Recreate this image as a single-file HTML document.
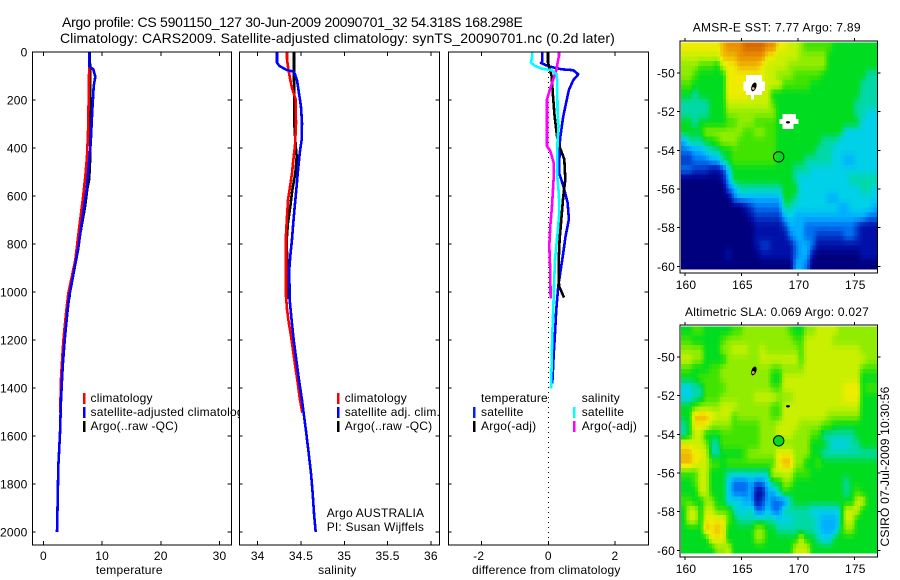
<!DOCTYPE html>
<html>
<head>
<meta charset="utf-8">
<title>Argo profile</title>
<style>
html,body{margin:0;padding:0;background:#fff;}
svg{display:block;font-family:"Liberation Sans",sans-serif;font-size:12px;fill:#000;letter-spacing:0.2px;}
</style>
</head>
<body>
<svg id="chart" xmlns="http://www.w3.org/2000/svg" width="900" height="580" viewBox="0 0 900 580">
<rect x="0" y="0" width="900" height="580" fill="#fff"/>
<text x="62" y="27" font-size="14" textLength="461" lengthAdjust="spacing">Argo profile: CS 5901150_127 30-Jun-2009 20090701_32 54.318S 168.298E</text>
<text x="60" y="43" font-size="14" textLength="555" lengthAdjust="spacing">Climatology: CARS2009. Satellite-adjusted climatology: synTS_20090701.nc (0.2d later)</text>
</svg>
<script>
// ---------- profile data ----------
const depthTicks = [0,200,400,600,800,1000,1200,1400,1600,1800,2000];
const tempTicks = [0,10,20,30];
const salTicks = [34,34.5,35,35.5,36];
const diffTicks = [-2,0,2];
const lonTicks = [160,165,170,175];
const latTicks = [50,52,54,56,58,60];

const tempClimDepths = [0,130,339,436,519,617,728,867,1006,1089,1200,1311,1380,1505];
const tempClimValues = [7.8,7.77,7.6,7.43,7.14,6.7,6.12,5.44,4.25,3.85,3.4,3.11,2.95,2.9];
const tempSatDepths = [0,60,72,103,142,242,380,425,570,686,825,964,1019,1089,1200,1311,1450,1589,1728,1867,2000];
const tempSatValues = [7.82,7.82,8.5,8.84,8.57,8.33,8.05,7.9,7.37,6.7,5.9,4.82,4.4,4.07,3.63,3.28,3.0,2.83,2.54,2.43,2.32];
const tempArgoDepths = [0,60,180,320,450,530,570,645,756,853,964,1030];
const tempArgoValues = [7.9,7.94,7.99,7.94,7.95,7.8,7.48,7.09,6.29,5.67,4.7,4.4];

const salClimDepths = [0,30,72,117,155,197,297,392,450,506,561,617,686,761,1017,1072,1117,1200,1283,1367,1450,1503];
const salClimValues = [34.338,34.338,34.354,34.377,34.4,34.439,34.442,34.431,34.411,34.396,34.373,34.35,34.338,34.327,34.327,34.338,34.354,34.392,34.423,34.457,34.488,34.515];
const salSatDepths = [0,44,58,75,82,117,172,228,297,367,422,506,575,644,711,781,850,919,989,1033,1117,1200,1283,1367,1450,1506,1589,1672,1756,1839,1922,2000];
const salSatValues = [34.223,34.223,34.25,34.335,34.419,34.454,34.477,34.5,34.512,34.507,34.485,34.462,34.446,34.427,34.411,34.396,34.376,34.361,34.37,34.37,34.392,34.416,34.446,34.477,34.512,34.531,34.561,34.589,34.615,34.635,34.65,34.67];
const salArgoDepths = [0,89,297,392,436,506,575,644,711,781,919,1030];
const salArgoValues = [34.419,34.419,34.423,34.439,34.45,34.434,34.4,34.376,34.35,34.335,34.343,34.346];

const diffTempSatDepths = [0,44,46,59,72,76,93,117,158,183,267,364,503,558,628,697,767,864,975,1072,1172,1269,1381];
const diffTempSatValues = [-0.18,-0.18,-0.22,0,0.4,0.75,0.9,0.75,0.62,0.58,0.45,0.35,0.32,0.45,0.58,0.62,0.52,0.42,0.3,0.24,0.2,0.16,0.12];
const diffTempArgoDepths = [0,44,59,100,183,267,350,399,447,531,600,683,781,878,975,1023];
const diffTempArgoValues = [-0.01,-0.01,0.02,0.1,0.14,0.19,0.26,0.35,0.48,0.51,0.45,0.4,0.34,0.31,0.32,0.47];
const diffSalSatDepths = [0,17,44,58,69,76,93,128,267,308,364,503,600,669,753,864,975,1072,1172,1311,1403];
const diffSalSatValues = [-0.48,-0.48,-0.52,-0.4,-0.2,0.1,0.25,0.27,0.28,0.31,0.28,0.26,0.32,0.33,0.28,0.2,0.17,0.15,0.12,0.1,0.08];
const diffSalArgoDepths = [0,17,44,72,100,156,197,392,413,461,531,642,725,808,919,1028];
const diffSalArgoValues = [0.32,0.32,0.28,0.25,0.18,0.05,-0.04,-0.04,0.06,0.16,0.16,0.11,0.06,0.03,0.06,0.07];

// ---------- map data (colour level per cell, north to south, west to east) ----------
const sstCells = [
[11,11,11,11,11,11,11,12,13,13,13,14,14,14,14,13,13,11,11,10,10,9,8,8,8,8,8,7,7,7,7,7,7,7,7],
[10,10,10,10,10,10,10,12,12,12,13,13,13,13,13,11,11,10,10,10,10,9,9,9,9,9,7,7,7,7,7,7,7,7,7],
[9,9,9,8,8,8,7,10,11,11,12,12,12,12,11,10,10,10,10,9,9,9,9,9,9,9,7,7,7,7,7,7,7,7,7],
[9,9,8,7,7,7,7,7,11,11,11,11,11,11,11,10,10,9,9,9,8,8,8,8,8,7,7,7,7,7,7,7,7,6,6],
[8,8,7,7,7,7,7,7,11,11,11,11,11,11,11,10,10,10,8,8,8,8,8,7,7,7,7,7,7,7,7,7,6,6,6],
[7,7,6,7,7,7,7,7,11,11,11,11,10,10,10,10,7,7,7,7,7,7,7,7,7,7,7,7,7,7,7,7,6,6,6],
[6,6,6,6,6,7,7,7,10,10,10,10,10,10,10,10,8,7,7,7,7,7,7,7,7,7,7,7,7,7,7,6,6,6,6],
[6,6,6,6,6,7,7,7,9,9,9,9,9,9,9,9,9,7,7,7,7,7,7,7,7,7,7,7,7,7,7,6,6,5,5],
[7,7,6,7,7,7,7,7,8,8,9,9,9,8,8,8,8,7,7,7,7,7,7,7,7,7,7,7,7,7,7,7,5,5,5],
[7,7,7,7,9,9,9,9,9,9,9,8,8,9,9,8,8,7,7,7,7,7,7,7,7,7,7,7,7,5,5,5,5,5,5],
[4,6,6,6,7,7,8,9,9,9,8,8,8,8,8,8,8,7,7,7,7,7,7,7,7,6,6,6,5,5,5,5,5,5,5],
[3,3,4,4,5,6,6,7,7,8,8,8,8,8,8,8,8,7,7,7,7,7,7,7,6,6,6,5,5,5,5,5,5,5,5],
[2,2,3,3,3,4,4,6,7,8,8,8,8,8,8,8,8,7,7,7,7,7,6,6,6,6,6,5,5,4,4,5,5,5,5],
[3,3,2,2,2,1,1,2,5,7,7,7,7,7,7,7,7,7,7,7,6,6,6,5,5,5,5,5,5,5,5,5,5,5,5],
[0,0,0,0,0,0,0,1,4,7,7,7,7,7,7,7,7,7,7,7,6,5,5,5,5,5,5,5,5,5,6,6,6,6,6],
[0,0,0,0,0,0,0,0,3,4,6,6,6,6,6,6,6,6,7,7,7,5,5,5,5,5,5,5,5,5,5,5,6,6,5],
[0,0,0,0,0,0,0,0,0,3,4,4,4,4,4,4,4,4,7,7,6,5,5,5,5,5,4,4,5,5,5,5,5,5,5],
[0,0,0,0,0,0,0,0,0,0,0,1,2,3,3,3,3,3,6,6,5,5,5,5,5,5,5,5,4,4,5,5,5,5,4],
[0,0,0,0,0,0,0,0,0,0,0,0,1,2,2,2,2,2,4,5,4,4,4,4,4,4,4,4,4,4,4,4,4,3,3],
[0,0,0,0,0,0,0,0,0,0,0,0,0,1,1,1,1,1,2,4,4,4,3,3,3,3,3,3,3,3,3,2,1,1,1],
[0,0,0,0,0,0,0,0,0,0,0,0,0,1,1,1,1,1,1,3,4,4,3,3,2,2,2,2,2,3,3,2,1,1,1],
[0,0,0,0,0,0,0,0,0,0,0,0,0,1,2,2,1,1,1,1,3,4,4,3,1,1,1,1,1,1,1,1,1,1,1],
[0,0,0,0,0,0,0,0,1,0,0,0,0,0,1,1,1,1,1,1,3,4,4,1,0,0,0,0,0,0,0,0,1,1,1],
[0,0,0,0,0,0,0,0,0,0,0,0,0,0,0,0,0,0,0,0,4,4,3,0,0,0,0,0,0,0,0,0,0,0,0]
];
const slaCells = [
[7,7,8,8,7,7,7,7,7,8,8,9,9,9,9,9,9,9,9,8,7,7,9,9,10,10,10,10,9,9,9,9,9,9,9],
[8,8,7,7,7,7,7,8,9,9,9,9,9,9,9,9,9,9,9,9,8,8,10,10,10,10,10,9,9,9,9,9,9,9,9],
[9,9,9,9,7,7,7,9,9,10,10,10,9,9,10,9,9,9,9,9,9,8,10,10,10,10,10,10,10,10,10,10,9,9,9],
[10,10,9,9,7,7,7,7,9,9,9,9,9,9,10,10,10,10,10,10,10,8,10,10,10,10,10,10,10,10,10,10,10,9,9],
[8,8,7,7,7,8,8,9,9,9,9,9,9,9,9,9,8,8,9,9,9,9,10,10,10,10,10,10,10,10,10,10,8,8,8],
[7,7,7,8,8,8,8,9,9,9,9,9,9,9,9,9,7,7,10,10,10,10,10,10,10,10,10,10,10,10,10,10,7,7,7],
[5,5,6,6,8,8,8,8,9,9,9,9,9,9,9,9,8,8,10,10,10,10,10,10,10,10,10,10,10,11,11,11,7,8,8],
[5,5,6,6,8,8,8,9,9,9,9,9,9,10,10,10,10,9,9,9,10,10,10,10,10,10,10,10,10,11,11,11,7,7,7],
[7,7,8,9,9,9,9,10,10,10,9,9,9,9,9,9,8,8,10,10,10,10,10,10,10,10,10,10,10,10,10,10,7,7,7],
[7,7,12,12,12,11,10,10,10,8,9,9,9,9,9,9,8,8,10,10,10,10,10,10,10,10,9,9,9,9,9,9,7,7,7],
[6,7,11,11,11,9,9,9,9,8,8,8,8,8,9,9,9,10,10,10,10,9,9,9,9,8,8,7,7,7,7,7,7,7,7],
[6,7,10,10,7,7,7,8,8,8,8,8,8,8,9,9,9,10,10,10,9,9,9,8,8,6,6,6,6,6,6,7,7,7,7],
[11,11,10,10,9,6,6,8,8,8,8,8,8,8,9,9,9,9,9,9,9,9,9,7,7,7,6,5,5,5,6,6,7,7,7],
[12,12,11,11,10,6,6,7,7,7,7,8,9,9,9,9,9,11,11,11,9,9,9,7,7,6,6,6,6,6,6,6,6,6,6],
[12,12,11,10,10,8,8,7,8,8,8,8,8,8,8,8,8,11,12,12,9,9,7,7,8,7,7,7,7,7,7,7,7,7,7],
[8,8,8,10,10,7,7,7,6,6,6,6,6,6,6,6,10,10,10,10,8,8,8,7,7,7,7,7,7,7,7,7,7,7,7],
[7,7,8,10,10,7,7,7,5,3,3,3,4,3,3,5,7,7,9,9,7,7,7,7,7,7,7,7,7,6,7,7,7,7,7],
[7,7,7,10,10,7,7,7,5,3,3,3,4,1,1,4,4,6,8,7,7,7,7,7,7,7,7,7,7,6,7,8,7,7,7],
[8,8,7,7,9,9,7,7,5,5,5,4,4,1,2,4,3,3,3,6,7,7,7,7,7,7,7,7,7,7,7,10,10,7,7],
[7,10,10,7,10,10,8,8,8,6,5,5,6,3,3,5,3,3,6,6,6,6,6,5,5,5,5,5,6,10,10,10,7,7,7],
[7,10,10,7,11,11,11,11,8,7,6,6,6,6,6,6,6,5,5,5,6,6,6,6,5,4,4,4,6,10,10,7,7,7,7],
[7,7,7,7,12,11,12,11,7,7,7,7,7,9,9,7,7,6,6,6,6,6,6,6,5,4,4,4,7,9,9,7,7,7,7],
[7,7,7,7,7,11,11,11,7,7,7,7,7,9,9,7,7,7,7,7,7,10,7,7,6,5,5,7,7,7,7,7,7,7,7],
[7,7,7,7,7,7,9,9,10,7,7,7,7,7,7,7,7,7,7,7,10,10,10,7,7,7,7,7,7,7,7,7,7,7,7]
];
const argoLon = 168.298;
const argoLat = 54.318;
const argoLevel = 7;
const islandLons = [166.1,169.12];
const islandLats = [50.72,52.55];
const landWest = [165.4,165.16,165.4,165.85,168.62,168.35,168.62];
const landEast = [166.82,167.09,166.82,166.11,169.83,170.07,169.59];
const landNorth = [50.1,50.45,50.93,51.14,52.12,52.38,52.64];
const landSouth = [50.45,50.93,51.14,51.38,52.38,52.64,52.9];

// ---------- scale helpers ----------
const palette = [[0,0,127],[0,16,168],[0,56,200],[0,112,240],[0,176,255],[0,208,232],[0,216,168],[0,220,32],[64,228,0],[144,236,0],[200,240,0],[240,236,0],[240,184,0],[232,144,0],[216,104,0]];
const svg = document.getElementById('chart');
const NS = 'http://www.w3.org/2000/svg';
function make(tag, attrs, parent){
  const el = document.createElementNS(NS, tag);
  for (const k in attrs) el.setAttribute(k, attrs[k]);
  (parent || svg).appendChild(el);
  return el;
}
function depthY(d){ return 52 + d * 0.24; }
function lonX(lon){ return 685 + (lon - 160) * 11.29; }
function latY(lat, off){ return 73 + off + (lat - 50) * 19.33; }
function levelColor(level){
  const v = Math.max(0, Math.min(palette.length - 1, level));
  const i = Math.min(palette.length - 2, Math.floor(v));
  const f = v - i;
  const a = palette[i], b = palette[i + 1];
  return 'rgb(' + Math.round(a[0] + (b[0] - a[0]) * f) + ',' + Math.round(a[1] + (b[1] - a[1]) * f) + ',' + Math.round(a[2] + (b[2] - a[2]) * f) + ')';
}
function sampleGrid(cells, rowPos, colPos){
  const maxR = cells.length - 1, maxC = cells[0].length - 1;
  const r = Math.max(0, Math.min(maxR, rowPos)), c = Math.max(0, Math.min(maxC, colPos));
  const r0 = Math.floor(r), c0 = Math.floor(c);
  const r1 = Math.min(maxR, r0 + 1), c1 = Math.min(maxC, c0 + 1);
  const fr = r - r0, fc = c - c0;
  const top = cells[r0][c0] * (1 - fc) + cells[r0][c1] * fc;
  const bottom = cells[r1][c0] * (1 - fc) + cells[r1][c1] * fc;
  return top * (1 - fr) + bottom * fr;
}

const panelTop = 52, panelBottom = 545;

function drawPanel(name, left, right, xFn, xTicks, showDepthLabels, xTitle, titleX){
  const bg = make('rect', {x:left, y:panelTop, width:right-left, height:panelBottom-panelTop, fill:'#fff', stroke:'none'});
  
  
  const tickGroup = make('g', {stroke:'#000', 'stroke-width':1, 'shape-rendering':'crispEdges'});
  
  
  depthTicks.forEach(function(d){
    const y = depthY(d);
    make('line', {x1:left, x2:left+3, y1:y, y2:y}, tickGroup);
    make('line', {x1:right-4, x2:right, y1:y, y2:y}, tickGroup);
    if (showDepthLabels){
      const t = make('text', {x:27.5, y:y+4.5, 'text-anchor':'end'});
      
      
      t.textContent = d;
    }
  });
  xTicks.forEach(function(v){
    const x = xFn(v);
    make('line', {x1:x, x2:x, y1:panelTop, y2:panelTop+4}, tickGroup);
    make('line', {x1:x, x2:x, y1:panelBottom-4, y2:panelBottom}, tickGroup);
    const t = make('text', {x:v < 0 ? x - 3 : x, y:560, 'text-anchor':'middle'});
    
    
    t.textContent = v;
  });
  const tt = make('text', {x:titleX, y:574, 'text-anchor':'middle'});
  
  
  tt.textContent = xTitle;
}
function drawFrame(name, left, right){
  const f = make('rect', {x:left, y:panelTop, width:right-left, height:panelBottom-panelTop, fill:'none', stroke:'#000', 'stroke-width':1.2, 'shape-rendering':'crispEdges'});
  
  
}
function drawProfile(name, depths, values, xFn, color){
  const pts = depths.map(function(d,i){ return xFn(values[i]).toFixed(1) + ',' + depthY(d).toFixed(1); }).join(' ');
  const p = make('polyline', {points:pts, fill:'none', stroke:color, 'stroke-width':2.6, 'shape-rendering':'crispEdges', 'stroke-linejoin':'round'});
  
  
}
function legendEntry(name, markerX, textX, baseline, color, label){
  if (color){
    const m = make('rect', {x:markerX-1, y:baseline-9, width:2.4, height:11, fill:color, 'shape-rendering':'crispEdges'});
    
    
  }
  const t = make('text', {x:textX, y:baseline});
  
  
  t.textContent = label;
}

// ---------- temperature panel ----------
function tempX(v){ return 43.4 + v * 5.87; }
drawPanel('temperature-panel', 32.5, 231.5, tempX, tempTicks, true, 'temperature', 129.3);
drawProfile('temperature-argo-line', tempArgoDepths, tempArgoValues, tempX, '#000');
drawProfile('temperature-climatology-line', tempClimDepths, tempClimValues, tempX, '#f00');
drawProfile('temperature-satellite-line', tempSatDepths, tempSatValues, tempX, '#00f');
drawFrame('temperature-panel', 32.5, 231.5);
legendEntry('temp-legend-climatology', 84, 90.5, 402, '#f00', 'climatology');
legendEntry('temp-legend-satellite', 84, 90.5, 416, '#00f', 'satellite-adjusted climatology');
legendEntry('temp-legend-argo', 84, 90.5, 430, '#000', 'Argo(..raw -QC)');

// ---------- salinity panel ----------
function salX(v){ return 257.7 + (v - 34) * 86.6; }
drawPanel('salinity-panel', 239.5, 439.5, salX, salTicks, false, 'salinity', 337.3);
drawProfile('salinity-argo-line', salArgoDepths, salArgoValues, salX, '#000');
drawProfile('salinity-climatology-line', salClimDepths, salClimValues, salX, '#f00');
drawProfile('salinity-satellite-line', salSatDepths, salSatValues, salX, '#00f');
drawFrame('salinity-panel', 239.5, 439.5);
legendEntry('sal-legend-climatology', 338, 344.7, 402, '#f00', 'climatology');
legendEntry('sal-legend-satellite', 338, 344.7, 416, '#00f', 'satellite adj. clim.');
legendEntry('sal-legend-argo', 338, 344.7, 430, '#000', 'Argo(..raw -QC)');
legendEntry('argo-country-note', 0, 326.7, 517, null, 'Argo AUSTRALIA');
legendEntry('principal-investigator-note', 0, 326.7, 531, null, 'PI: Susan Wijffels');

// ---------- difference panel ----------
function diffX(v){ return 548.3 + v * 33.3; }
drawPanel('difference-panel', 448.5, 648.5, diffX, diffTicks, false, 'difference from climatology', 546.3);
const zero = make('line', {x1:diffX(0), x2:diffX(0), y1:panelTop, y2:panelBottom, stroke:'#000', 'stroke-width':1, 'stroke-dasharray':'1 4', 'shape-rendering':'crispEdges'});


drawProfile('diff-temperature-satellite-line', diffTempSatDepths, diffTempSatValues, diffX, '#00f');
drawProfile('diff-temperature-argo-line', diffTempArgoDepths, diffTempArgoValues, diffX, '#000');
drawProfile('diff-salinity-argo-line', diffSalArgoDepths, diffSalArgoValues, diffX, '#f0f');
drawProfile('diff-salinity-satellite-line', diffSalSatDepths, diffSalSatValues, diffX, '#0ff');
drawFrame('difference-panel', 448.5, 648.5);
legendEntry('diff-legend-temperature-heading', 0, 481, 402, null, 'temperature');
legendEntry('diff-legend-temp-satellite', 474, 481, 416, '#0020ff', 'satellite');
legendEntry('diff-legend-temp-argo', 474, 481, 430, '#000', 'Argo(-adj)');
legendEntry('diff-legend-salinity-heading', 0, 581.7, 402, null, 'salinity');
legendEntry('diff-legend-sal-satellite', 574, 581.7, 416, '#0ff', 'satellite');
legendEntry('diff-legend-sal-argo', 574, 581.7, 430, '#f0f', 'Argo(-adj)');

// ---------- maps ----------
const lonStart = 159.65, lonStep = 17.35 / 35;
const latStart = 48.41, latStep = 11.73 / 24;
const subCells = 2;
function drawMap(name, cells, off, showLand, titleText, titleX, titleLen, titleY, fillCircle){
  const g = make('g', {'shape-rendering':'crispEdges'});
  
  
  const nRows = cells.length * subCells, nCols = cells[0].length * subCells;
  for (let j = 0; j < nRows; j++){
    for (let i = 0; i < nCols; i++){
      const level = sampleGrid(cells, (j + 0.5) / subCells - 0.5, (i + 0.5) / subCells - 0.5);
      const x0 = lonX(lonStart + i / subCells * lonStep), x1 = lonX(lonStart + (i + 1) / subCells * lonStep);
      const y0 = latY(latStart + j / subCells * latStep, off), y1 = latY(latStart + (j + 1) / subCells * latStep, off);
      const cell = make('rect', {x:x0.toFixed(2), y:y0.toFixed(2), width:(x1-x0+0.4).toFixed(2), height:(y1-y0+0.4).toFixed(2), fill:levelColor(level)}, g);
      
      
    }
  }
  if (showLand){
    landWest.forEach(function(w, i){
      const x0 = lonX(w), y0 = latY(landNorth[i], off);
      const patch = make('rect', {x:x0, y:y0, width:lonX(landEast[i])-x0, height:latY(landSouth[i], off)-y0, fill:'#fff', 'shape-rendering':'crispEdges'});
      
      
    });
  }
  const ix1 = lonX(islandLons[0]), iy1 = latY(islandLats[0], off);
  const a = make('ellipse', {cx:ix1, cy:iy1, rx:2.4, ry:4.6, fill:'#000', transform:'rotate(20 ' + ix1 + ' ' + iy1 + ')'});
  
  
  const a2 = make('circle', {cx:ix1-0.6, cy:iy1+1.6, r:1.4, fill:'#f0b080'});
  
  
  const b = make('ellipse', {cx:lonX(islandLons[1]), cy:latY(islandLats[1], off), rx:2, ry:1.2, fill:'#000'});
  
  
  const circ = make('circle', {cx:lonX(argoLon), cy:latY(argoLat, off)+0.3, r:5.2, fill:fillCircle ? levelColor(argoLevel) : 'none', stroke:'#000', 'stroke-width':1});
  
  

  const top = 41 + off, bottom = 273 + off, left = 680, right = 877.5;
  const frame = make('rect', {x:left, y:top, width:right-left, height:bottom-top, fill:'none', stroke:'#000', 'stroke-width':1.2, 'shape-rendering':'crispEdges'});
  
  
  const ticks = make('g', {stroke:'#000', 'stroke-width':1, 'shape-rendering':'crispEdges'});
  
  
  lonTicks.forEach(function(v){
    const x = lonX(v);
    make('line', {x1:x, x2:x, y1:top-3, y2:top}, ticks);
    make('line', {x1:x, x2:x, y1:bottom, y2:bottom+3}, ticks);
    const t = make('text', {x:x+1, y:289+off, 'text-anchor':'middle'});
    
    
    t.textContent = v;
  });
  latTicks.forEach(function(v){
    const y = latY(v, off);
    make('line', {x1:left-3, x2:left, y1:y, y2:y}, ticks);
    make('line', {x1:right, x2:right+3, y1:y, y2:y}, ticks);
    const t = make('text', {x:675, y:y+4.5, 'text-anchor':'end'});
    
    
    t.textContent = '-' + v;
  });
  const tt = make('text', {x:titleX, y:titleY, textLength:titleLen, lengthAdjust:'spacing'});
  
  
  tt.textContent = titleText;
}
drawMap('sst-map', sstCells, 0, true, 'AMSR-E SST: 7.77 Argo: 7.89', 692.7, 168, 31.5, false);
drawMap('sla-map', slaCells, 284, false, 'Altimetric SLA: 0.069 Argo: 0.027', 685, 184, 316, true);

const stamp = make('text', {x:889, y:546.5, transform:'rotate(-90 889 546.5)', textLength:160, lengthAdjust:'spacing'});


stamp.textContent = 'CSIRO 07-Jul-2009 10:30:56';
</script>
</body>
</html>
